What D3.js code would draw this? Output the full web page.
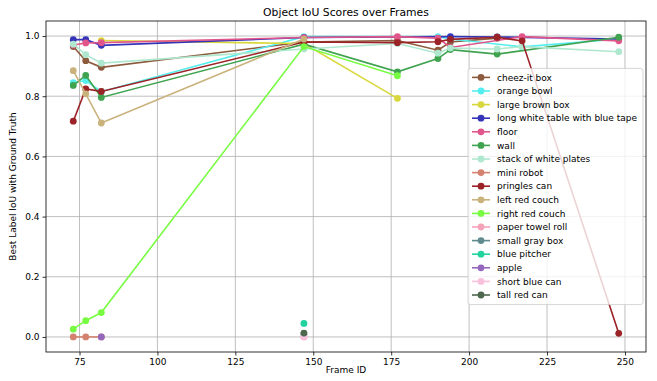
<!DOCTYPE html>
<html>
<head>
<meta charset="utf-8">
<script src="https://cdn.jsdelivr.net/npm/d3@7"></script>
<style>
  body { margin: 0; background: #fff; }
  text { font-family: "DejaVu Sans", sans-serif; fill: #000; }
</style>
</head>
<body>
<div id="chart"></div>
<script>
// frames where objects were scored
var frames = [73, 77, 82, 147, 177, 190, 194, 209, 217, 248];

// IoU per object, aligned with frames (null = not seen in that frame)
var cheezIt      = [0.965, 0.918, 0.896, 0.980, 0.985, 0.953, 0.980, 0.993, null, null];
var orangeBowl   = [0.845, 0.852, 0.815, 0.998, null, 0.998, 0.990, null, 0.964, 0.990];
var largeBox     = [null, null, 0.985, 0.975, 0.793, null, null, null, null, null];
var longTable    = [0.988, 0.988, 0.969, 0.995, null, null, 0.998, 0.997, null, 0.990];
var floorIoU     = [0.970, 0.977, 0.978, 0.995, 0.998, 0.993, 0.962, null, 0.998, 0.984];
var wall         = [0.836, 0.869, 0.796, 0.973, 0.881, 0.925, 0.955, 0.940, null, 0.996];
var plates       = [0.973, 0.938, 0.910, 0.957, 0.975, 0.943, 0.960, 0.957, 0.965, 0.948];
var miniRobot    = [0.0, 0.0, 0.0, null, null, null, null, null, null, null];
var pringles     = [0.717, 0.824, 0.816, 0.980, 0.978, 0.981, 0.989, 0.996, 0.984, 0.012];
var leftCouch    = [0.885, 0.808, 0.711, 0.990, null, null, null, null, null, null];
var rightCouch   = [0.026, 0.054, 0.081, 0.965, 0.868, null, null, null, null, null];
var paperTowel   = [null, null, null, 0.0, null, null, null, null, null, null];
var smallGrayBox = [null, null, null, 0.010, null, null, null, null, null, null];
var bluePitcher  = [null, null, null, 0.045, null, null, null, null, null, null];
var apple        = [null, null, 0.0, null, null, null, null, null, null, null];
var shortBlueCan = [null, null, null, 0.0, null, null, null, null, null, null];
var tallRedCan   = [null, null, null, 0.013, null, null, null, null, null, null];

var names = ["cheez-it box", "orange bowl", "large brown box", "long white table with blue tape",
  "floor", "wall", "stack of white plates", "mini robot", "pringles can", "left red couch",
  "right red couch", "paper towel roll", "small gray box", "blue pitcher", "apple",
  "short blue can", "tall red can"];
var values = [cheezIt, orangeBowl, largeBox, longTable, floorIoU, wall, plates, miniRobot,
  pringles, leftCouch, rightCouch, paperTowel, smallGrayBox, bluePitcher, apple,
  shortBlueCan, tallRedCan];
var colors = ["#8c5a3c", "#55eeee", "#d8d83c", "#3434b8", "#e0558a", "#3fa34f", "#afe8cf",
  "#d4826f", "#9b2226", "#c9b27c", "#78fc42", "#f5a3b9", "#5f8b8f", "#22d3a0", "#9467bd",
  "#f9c0dc", "#4d684e"];

var xTicks = [75, 100, 125, 150, 175, 200, 225, 250];
var yTicks = [0.0, 0.2, 0.4, 0.6, 0.8, 1.0];

var width = 657, height = 381;
var margin = { top: 21, right: 11, bottom: 29, left: 46 };

var svg = d3.select("#chart").append("svg")
  .attr("width", width)
  .attr("height", height);

var plotW = width - margin.left - margin.right,
    plotH = height - margin.top - margin.bottom;

var g = svg.append("g")
  .attr("transform", "translate(" + margin.left + "," + margin.top + ")");

// matplotlib style 5% padding on both axes
var xPad = (d3.max(frames) - d3.min(frames)) * 0.05;
var x = d3.scaleLinear()
  .domain([d3.min(frames) - xPad, d3.max(frames) + xPad])
  .range([0, plotW]);
var y = d3.scaleLinear()
  .domain([-0.05, 1.05])
  .range([plotH, 0]);

// grid
g.append("g").selectAll("line").data(xTicks).enter().append("line")
  .attr("x1", d => x(d)).attr("x2", d => x(d))
  .attr("y1", 0).attr("y2", plotH)
  .attr("stroke", "#b0b0b0").attr("stroke-width", 0.8);
g.append("g").selectAll("line").data(yTicks).enter().append("line")
  .attr("y1", d => y(d)).attr("y2", d => y(d))
  .attr("x1", 0).attr("x2", plotW)
  .attr("stroke", "#b0b0b0").attr("stroke-width", 0.8);

// series
var line = d3.line()
  .x(d => x(d.frame))
  .y(d => y(d.v));

values.forEach(function(vals, i) {
  var pts = frames.map((f, j) => ({ frame: f, v: vals[j] })).filter(d => d.v !== null);
  var s = g.append("g");
  s.append("path")
    .datum(pts)
    .attr("d", line)
    .attr("fill", "none")
    .attr("stroke", colors[i])
    .attr("stroke-width", 1.6);
  s.selectAll("circle").data(pts).enter().append("circle")
    .attr("cx", d => x(d.frame))
    .attr("cy", d => y(d.v))
    .attr("r", 3.4)
    .attr("fill", colors[i]);
});

// frame
g.append("rect")
  .attr("width", plotW).attr("height", plotH)
  .attr("fill", "none").attr("stroke", "#000").attr("stroke-width", 0.8);

// axes
var xAxis = g.append("g")
  .attr("transform", "translate(0," + plotH + ")")
  .call(d3.axisBottom(x).tickValues(xTicks).tickSize(3.5).tickPadding(3).tickFormat(d3.format("d")));
var yAxis = g.append("g")
  .call(d3.axisLeft(y).tickValues(yTicks).tickSize(3.5).tickPadding(3).tickFormat(d3.format(".1f")));
[xAxis, yAxis].forEach(function(a) {
  a.select(".domain").remove();
  a.selectAll("line").attr("stroke", "#000").attr("stroke-width", 0.8);
  a.selectAll("text").attr("font-size", "9px").attr("font-family", "DejaVu Sans").attr("fill", "#000");
});

// title and labels
svg.append("text")
  .attr("x", margin.left + plotW / 2).attr("y", 16)
  .attr("text-anchor", "middle").attr("font-size", "10.8px")
  .text("Object IoU Scores over Frames");
svg.append("text")
  .attr("x", margin.left + plotW / 2).attr("y", 373)
  .attr("text-anchor", "middle").attr("font-size", "9px")
  .text("Frame ID");
svg.append("text")
  .attr("transform", "translate(16," + (margin.top + plotH / 2) + ") rotate(-90)")
  .attr("text-anchor", "middle").attr("font-size", "9px")
  .text("Best Label IoU with Ground Truth");

// legend, center right
var rowH = 13.6,
    legendW = 175,
    legendH = names.length * rowH + 5;
var legend = g.append("g")
  .attr("transform", "translate(" + (plotW - legendW - 3) + "," + (plotH / 2 - legendH / 2) + ")");
legend.append("rect")
  .attr("width", legendW).attr("height", legendH)
  .attr("rx", 2.5)
  .attr("fill", "#fff").attr("fill-opacity", 0.8)
  .attr("stroke", "#cccccc").attr("stroke-width", 0.8);
var item = legend.selectAll(".item").data(names).enter().append("g")
  .attr("class", "item")
  .attr("transform", (d, i) => "translate(0," + (9 + i * rowH) + ")");
item.append("line")
  .attr("x1", 4).attr("x2", 22)
  .attr("stroke", (d, i) => colors[i]).attr("stroke-width", 1.6);
item.append("circle")
  .attr("cx", 13).attr("r", 3.4)
  .attr("fill", (d, i) => colors[i]);
item.append("text")
  .attr("x", 29).attr("dy", "0.35em")
  .attr("font-size", "9px")
  .text(d => d);
</script>
</body>
</html>
